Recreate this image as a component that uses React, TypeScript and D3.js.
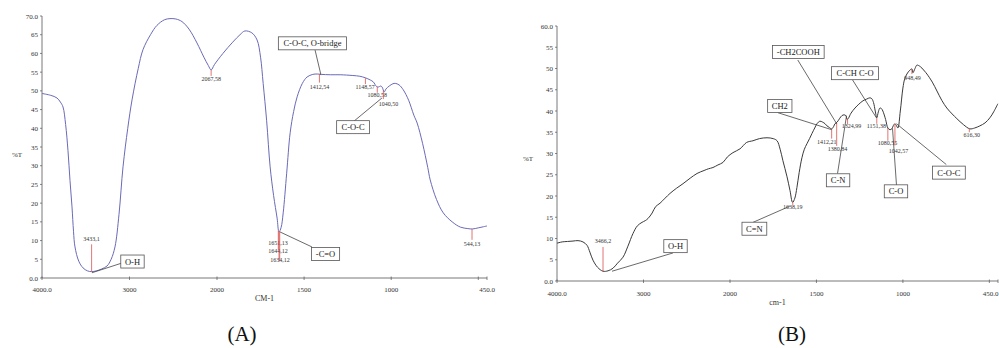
import React from "react";
import * as d3 from "d3";

// ---------- DATA ----------
// Panel A spectrum: [wavenumber, %T]
const spectrumA: [number, number][] = [
  [4000, 49.3], [3900, 48.8], [3829, 48.1], [3790, 47], [3760, 45.7], [3730, 41], [3703, 34],
  [3680, 26], [3657, 19], [3640, 12.5], [3623, 8.3], [3580, 4.5], [3531, 2.7], [3480, 1.9],
  [3433, 1.7], [3380, 1.9], [3320, 2.4], [3257, 3.2], [3210, 5], [3166, 8.3], [3120, 17],
  [3074, 29.7], [3020, 40], [2971, 47.6], [2900, 56], [2846, 61], [2760, 65], [2686, 67.5],
  [2600, 69], [2537, 69.3], [2470, 69.2], [2400, 68.5], [2320, 66.5], [2229, 62.8], [2150, 59],
  [2100, 56.8], [2067, 55.6], [2030, 57], [1966, 60], [1910, 63], [1868, 65], [1840, 66],
  [1800, 65.5], [1770, 63.6], [1750, 59], [1735, 52], [1715, 42], [1695, 29.7], [1675, 22],
  [1655, 16], [1644, 12.3], [1632, 13.5], [1620, 17.4], [1600, 28], [1580, 38.8], [1560, 44.5],
  [1540, 48.4], [1510, 52], [1483, 53.7], [1450, 54.4], [1425, 54.5], [1400, 54.4], [1350, 54.3],
  [1293, 54.3], [1220, 54.1], [1180, 53.9], [1149, 53.5], [1120, 52.9], [1103, 52.4], [1085, 51.2],
  [1075, 51], [1060, 51.3], [1052, 51], [1040, 49.7], [1030, 50.5], [1011, 51.3], [990, 51.9],
  [977, 52.0], [955, 51.6], [931, 50.3], [900, 47.5], [870, 43.5], [851, 41.4], [820, 36],
  [790, 29.5], [776, 26.2], [740, 21], [701, 17.4], [650, 15], [603, 13.6], [560, 13.2],
  [534, 13.1], [500, 13.4], [470, 13.7], [450, 13.9],
];

// Panel B spectrum: [wavenumber, %T]
const spectrumB: [number, number][] = [
  [4000, 8.9], [3940, 9.2], [3880, 9.3], [3815, 9.4], [3757, 9.5], [3700, 9.2], [3653, 8.4],
  [3620, 6.8], [3584, 4.9], [3530, 3.2], [3468, 2.3], [3410, 2.4], [3353, 3.0], [3300, 4.2],
  [3237, 5.6], [3180, 8.2], [3121, 11.2], [3070, 13], [3017, 13.8], [2980, 14.2], [2948, 14.7],
  [2900, 16], [2860, 17.5], [2809, 18.3], [2750, 19.5], [2694, 20.6], [2620, 21.8], [2543, 22.9],
  [2460, 24.2], [2381, 25.3], [2300, 26.0], [2250, 26.4], [2197, 26.7], [2140, 27.3], [2081, 27.9],
  [2030, 29.2], [1983, 30.2], [1942, 31.1], [1904, 32.6], [1867, 33], [1830, 33.5], [1786, 33.7],
  [1750, 33.5], [1728, 33], [1710, 31], [1694, 28.3], [1670, 24.5], [1653, 21.3], [1638, 18.5],
  [1625, 19.5], [1613, 22], [1600, 25.5], [1584, 29], [1570, 31], [1555, 32.3], [1540, 33.5],
  [1526, 34.7], [1510, 36], [1497, 37], [1480, 37.6], [1465, 37.4], [1450, 37], [1439, 36.5],
  [1425, 36.1], [1412, 35.8], [1400, 36.4], [1393, 37], [1380, 37.4], [1365, 38.3], [1353, 38.9],
  [1340, 39.1], [1330, 38.9], [1322, 38], [1315, 38.3], [1300, 39.5], [1277, 40.7], [1255, 41.6],
  [1231, 42.4], [1210, 42.8], [1191, 43.1], [1180, 42.9], [1170, 42.0], [1160, 40], [1151, 38.4],
  [1142, 39.8], [1133, 40.7], [1125, 40.6], [1116, 40], [1100, 38], [1087, 36], [1075, 35.6],
  [1064, 35.8], [1055, 36.6], [1046, 37], [1038, 36.6], [1029, 36], [1015, 40], [1000, 45.4],
  [990, 47.5], [977, 48.7], [960, 49.6], [948, 49.9], [942, 49], [930, 50], [919, 50.8],
  [905, 50.6], [890, 50.1], [875, 49.4], [861, 48.7], [830, 46.8], [803, 44.7], [775, 42.5],
  [746, 40.7], [715, 39.3], [688, 38.2], [650, 36.8], [613, 35.8], [585, 36.0], [555, 36.5],
  [525, 37.2], [497, 38.4], [475, 39.8], [451, 41.7],
];

const xTickValues = [4000, 3000, 2000, 1500, 1000, 500, 450];
const xTickLabels = ["4000.0", "3000", "2000", "1500", "1000", "", "450.0"];
const yTicksA = [0, 5, 10, 15, 20, 25, 30, 35, 40, 45, 50, 55, 60, 65, 70];
const yTicksB = [0, 5, 10, 15, 20, 25, 30, 35, 40, 45, 50, 55, 60];

// Peak markers: wn, curve T, tick end T, label text, label wn, label T
type Peak = { wn: number; t: number; t2: number; text: string; lwn: number; lt: number };
const peaksA: Peak[] = [
  { wn: 3433, t: 1.7, t2: 9.0, text: "3433,1", lwn: 3433, lt: 10.0 },
  { wn: 2067, t: 55.6, t2: 54.0, text: "2067,58", lwn: 2067, lt: 52.6 },
  { wn: 1412, t: 54.5, t2: 52.2, text: "1412,54", lwn: 1412, lt: 50.4 },
  { wn: 1148, t: 53.4, t2: 51.8, text: "1148,57", lwn: 1150, lt: 50.4 },
  { wn: 1080, t: 51.1, t2: 49.5, text: "1080,58", lwn: 1080, lt: 48.3 },
  { wn: 1045, t: 50.0, t2: 47.8, text: "1040,50", lwn: 1016, lt: 46.0 },
  { wn: 1648, t: 12.6, t2: 7.5, text: "1651,13", lwn: 1650, lt: 8.7 },
  { wn: 1644, t: 12.3, t2: 5.0, text: "1644,12", lwn: 1650, lt: 6.6 },
  { wn: 1640, t: 12.5, t2: 4.4, text: "1634,12", lwn: 1638, lt: 4.4 },
  { wn: 536, t: 13.1, t2: 10.2, text: "544,13", lwn: 536, lt: 8.5 },
];
const peaksB: Peak[] = [
  { wn: 3468, t: 2.3, t2: 8.0, text: "3466,2", lwn: 3468, lt: 8.9 },
  { wn: 1637, t: 18.5, t2: 17.9, text: "1638,19", lwn: 1637, lt: 16.9 },
  { wn: 1412, t: 35.8, t2: 33.5, text: "1412,21", lwn: 1441, lt: 32.3 },
  { wn: 1383, t: 37.2, t2: 31.8, text: "1380,84", lwn: 1378, lt: 30.5 },
  { wn: 1320, t: 38.2, t2: 36.9, text: "1324,99", lwn: 1297, lt: 35.9 },
  { wn: 1151, t: 38.4, t2: 37.0, text: "1151,38", lwn: 1153, lt: 35.9 },
  { wn: 1087, t: 36.0, t2: 33.0, text: "1080,55", lwn: 1089, lt: 31.9 },
  { wn: 1046, t: 37.0, t2: 31.9, text: "1042,57", lwn: 1026, lt: 30.2 },
  { wn: 948, t: 49.9, t2: 48.7, text: "948,49", lwn: 945, lt: 47.3 },
  { wn: 616, t: 35.8, t2: 35.0, text: "616,30", lwn: 602, lt: 34.0 },
];

// Boxed assignments: text, box centre (wn, T), leader from (wn,T) to (wn,T)
type Box = { text: string; bwn: number; bt: number; l1: [number, number]; l2: [number, number] };
const boxesA: Box[] = [
  { text: "O-H", bwn: 2966, bt: 4.4, l1: [3086, 4.0], l2: [3429, 1.4] },
  { text: "C-O-C, O-bridge", bwn: 1452, bt: 62.7, l1: [1437, 60.9], l2: [1403, 54.2] },
  { text: "C-O-C", bwn: 1219, bt: 40.3, l1: [1219, 41.7], l2: [1053, 48.1] },
  { text: "-C=O", bwn: 1377, bt: 6.4, l1: [1455, 8.3], l2: [1638, 12.3] },
];
const boxesB: Box[] = [
  { text: "O-H", bwn: 2630, bt: 8.2, l1: [2659, 6.6], l2: [3364, 2.3] },
  { text: "C=N", bwn: 1859, bt: 12.3, l1: [1867, 13.8], l2: [1654, 17.6] },
  { text: "CH2", bwn: 1712, bt: 41.2, l1: [1723, 39.6], l2: [1412, 35.6] },
  { text: "-CH2COOH", bwn: 1605, bt: 53.9, l1: [1608, 52.0], l2: [1383, 37.0] },
  { text: "C-CH C-O", bwn: 1277, bt: 48.9, l1: [1291, 47.3], l2: [1153, 38.4] },
  { text: "C-N", bwn: 1375, bt: 23.7, l1: [1378, 25.3], l2: [1326, 38.9] },
  { text: "C-O", bwn: 1040, bt: 21.1, l1: [1037, 22.5], l2: [1060, 35.9] },
  { text: "C-O-C", bwn: 734, bt: 25.5, l1: [749, 27.4], l2: [1037, 37.0] },
];

const FONT = "Liberation Serif, Times New Roman, DejaVu Serif, serif";
const W = 999;

function textWidth(s: string): number {
  let w = 0;
  for (const c of s) {
    if (/[A-Z]/.test(c)) w += 6.0;
    else if (/[0-9]/.test(c)) w += 4.3;
    else if (c === " ") w += 2.2;
    else if (c === "=") w += 4.8;
    else w += 3.4;
  }
  return w;
}

type PanelProps = {
  data: [number, number][];
  x0: number; x2000: number; x1: number;
  yTop: number; yBot: number; yMax: number;
  yTicks: number[];
  lineColor: string;
  peaks: Peak[];
  boxes: Box[];
  xTitle: string; xTitleY: number;
  yTitleX: number; yTitleY: number;
  caption: string;
  captionX: number;
  tickLabelY: number;
};

function Panel(p: PanelProps) {
  const x = d3.scaleLinear().domain([4000, 2000, 450]).range([p.x0, p.x2000, p.x1]);
  const y = d3.scaleLinear().domain([0, p.yMax]).range([p.yBot, p.yTop]);
  const line = d3.line<[number, number]>().x(d => x(d[0])).y(d => y(d[1])).curve(d3.curveCatmullRom.alpha(0.5));
  const st = { fontFamily: FONT };
  return (
    <g style={st}>
      {/* axes */}
      <line x1={p.x0} x2={p.x0} y1={p.yTop} y2={p.yBot} stroke="#555" strokeWidth={0.8} />
      <line x1={p.x0} x2={p.x1} y1={p.yBot} y2={p.yBot} stroke="#555" strokeWidth={0.8} />
      {p.yTicks.map((v, i) => (
        <g key={"y" + v}>
          <line x1={p.x0 - 2} x2={p.x0} y1={y(v)} y2={y(v)} stroke="#555" strokeWidth={0.7} />
          <text x={p.x0 - 4} y={y(v) + 2.5} fontSize={7} textAnchor="end" fill="#333" style={st}>
            {v === 0 || i === p.yTicks.length - 1 ? v.toFixed(1) : String(v)}
          </text>
        </g>
      ))}
      {xTickValues.map((v, i) => {
        const tx = x(v);
        const anchor = tx + 10 > W ? "end" : "middle";
        return (
          <g key={"x" + v}>
            <line x1={tx} x2={tx} y1={p.yBot - 1.5} y2={p.yBot + 2} stroke="#555" strokeWidth={0.7} />
            <text x={anchor === "end" ? W - 0.5 : tx} y={p.tickLabelY} fontSize={7} textAnchor={anchor} fill="#333" style={st}>{xTickLabels[i]}</text>
          </g>
        );
      })}
      <text x={p.yTitleX} y={p.yTitleY} fontSize={7} textAnchor="middle" fill="#333" style={st}>%T</text>
      <text x={(p.x0 + p.x1) / 2} y={p.xTitleY} fontSize={8} textAnchor="middle" fill="#333" style={st}>{p.xTitle}</text>
      {/* spectrum */}
      <path d={line(p.data) || ""} fill="none" stroke={p.lineColor} strokeWidth={1} />
      {/* peaks */}
      {p.peaks.map((k, i) => (
        <g key={"p" + i}>
          <line x1={x(k.wn)} x2={x(k.wn)} y1={y(k.t)} y2={y(k.t2)} stroke="#d9534f" strokeWidth={0.8} />
          <text x={x(k.lwn)} y={y(k.lt)} fontSize={6} textAnchor="middle" fill="#333" style={st}>{k.text}</text>
        </g>
      ))}
      {/* boxes */}
      {p.boxes.map((b, i) => {
        const w = textWidth(b.text) + 8;
        const h = 13;
        const cx = x(b.bwn), cy = y(b.bt);
        return (
          <g key={"b" + i}>
            <line x1={x(b.l1[0])} y1={y(b.l1[1])} x2={x(b.l2[0])} y2={y(b.l2[1])} stroke="#444" strokeWidth={0.8} />
            <rect x={cx - w / 2} y={cy - h / 2} width={w} height={h} fill="#fff" stroke="#555" strokeWidth={0.8} />
            <text x={cx} y={cy + 3} fontSize={8.5} textAnchor="middle" fill="#222" style={st}>{b.text}</text>
          </g>
        );
      })}
      <text x={p.captionX} y={341} fontSize={21} textAnchor="middle" fill="#111" style={st}>{p.caption}</text>
    </g>
  );
}

export default function App() {
  return (
    <svg width={W} height={348} style={{ position: "absolute", left: 0, top: 0, background: "#fff" }}>
      <rect x={0} y={0} width={W} height={348} fill="#fff" />
      <Panel data={spectrumA} x0={42} x2000={217} x1={487} yTop={16} yBot={278} yMax={70}
        yTicks={yTicksA} lineColor="#6a6ab8" peaks={peaksA} boxes={boxesA}
        xTitle="CM-1" xTitleY={301} yTitleX={17} yTitleY={157} caption="(A)" captionX={242} tickLabelY={292} />
      <Panel data={spectrumB} x0={557} x2000={730} x1={998} yTop={26} yBot={281} yMax={60}
        yTicks={yTicksB} lineColor="#3a3a3a" peaks={peaksB} boxes={boxesB}
        xTitle="cm-1" xTitleY={305} yTitleX={528} yTitleY={161} caption="(B)" captionX={792} tickLabelY={296} />
    </svg>
  );
}
